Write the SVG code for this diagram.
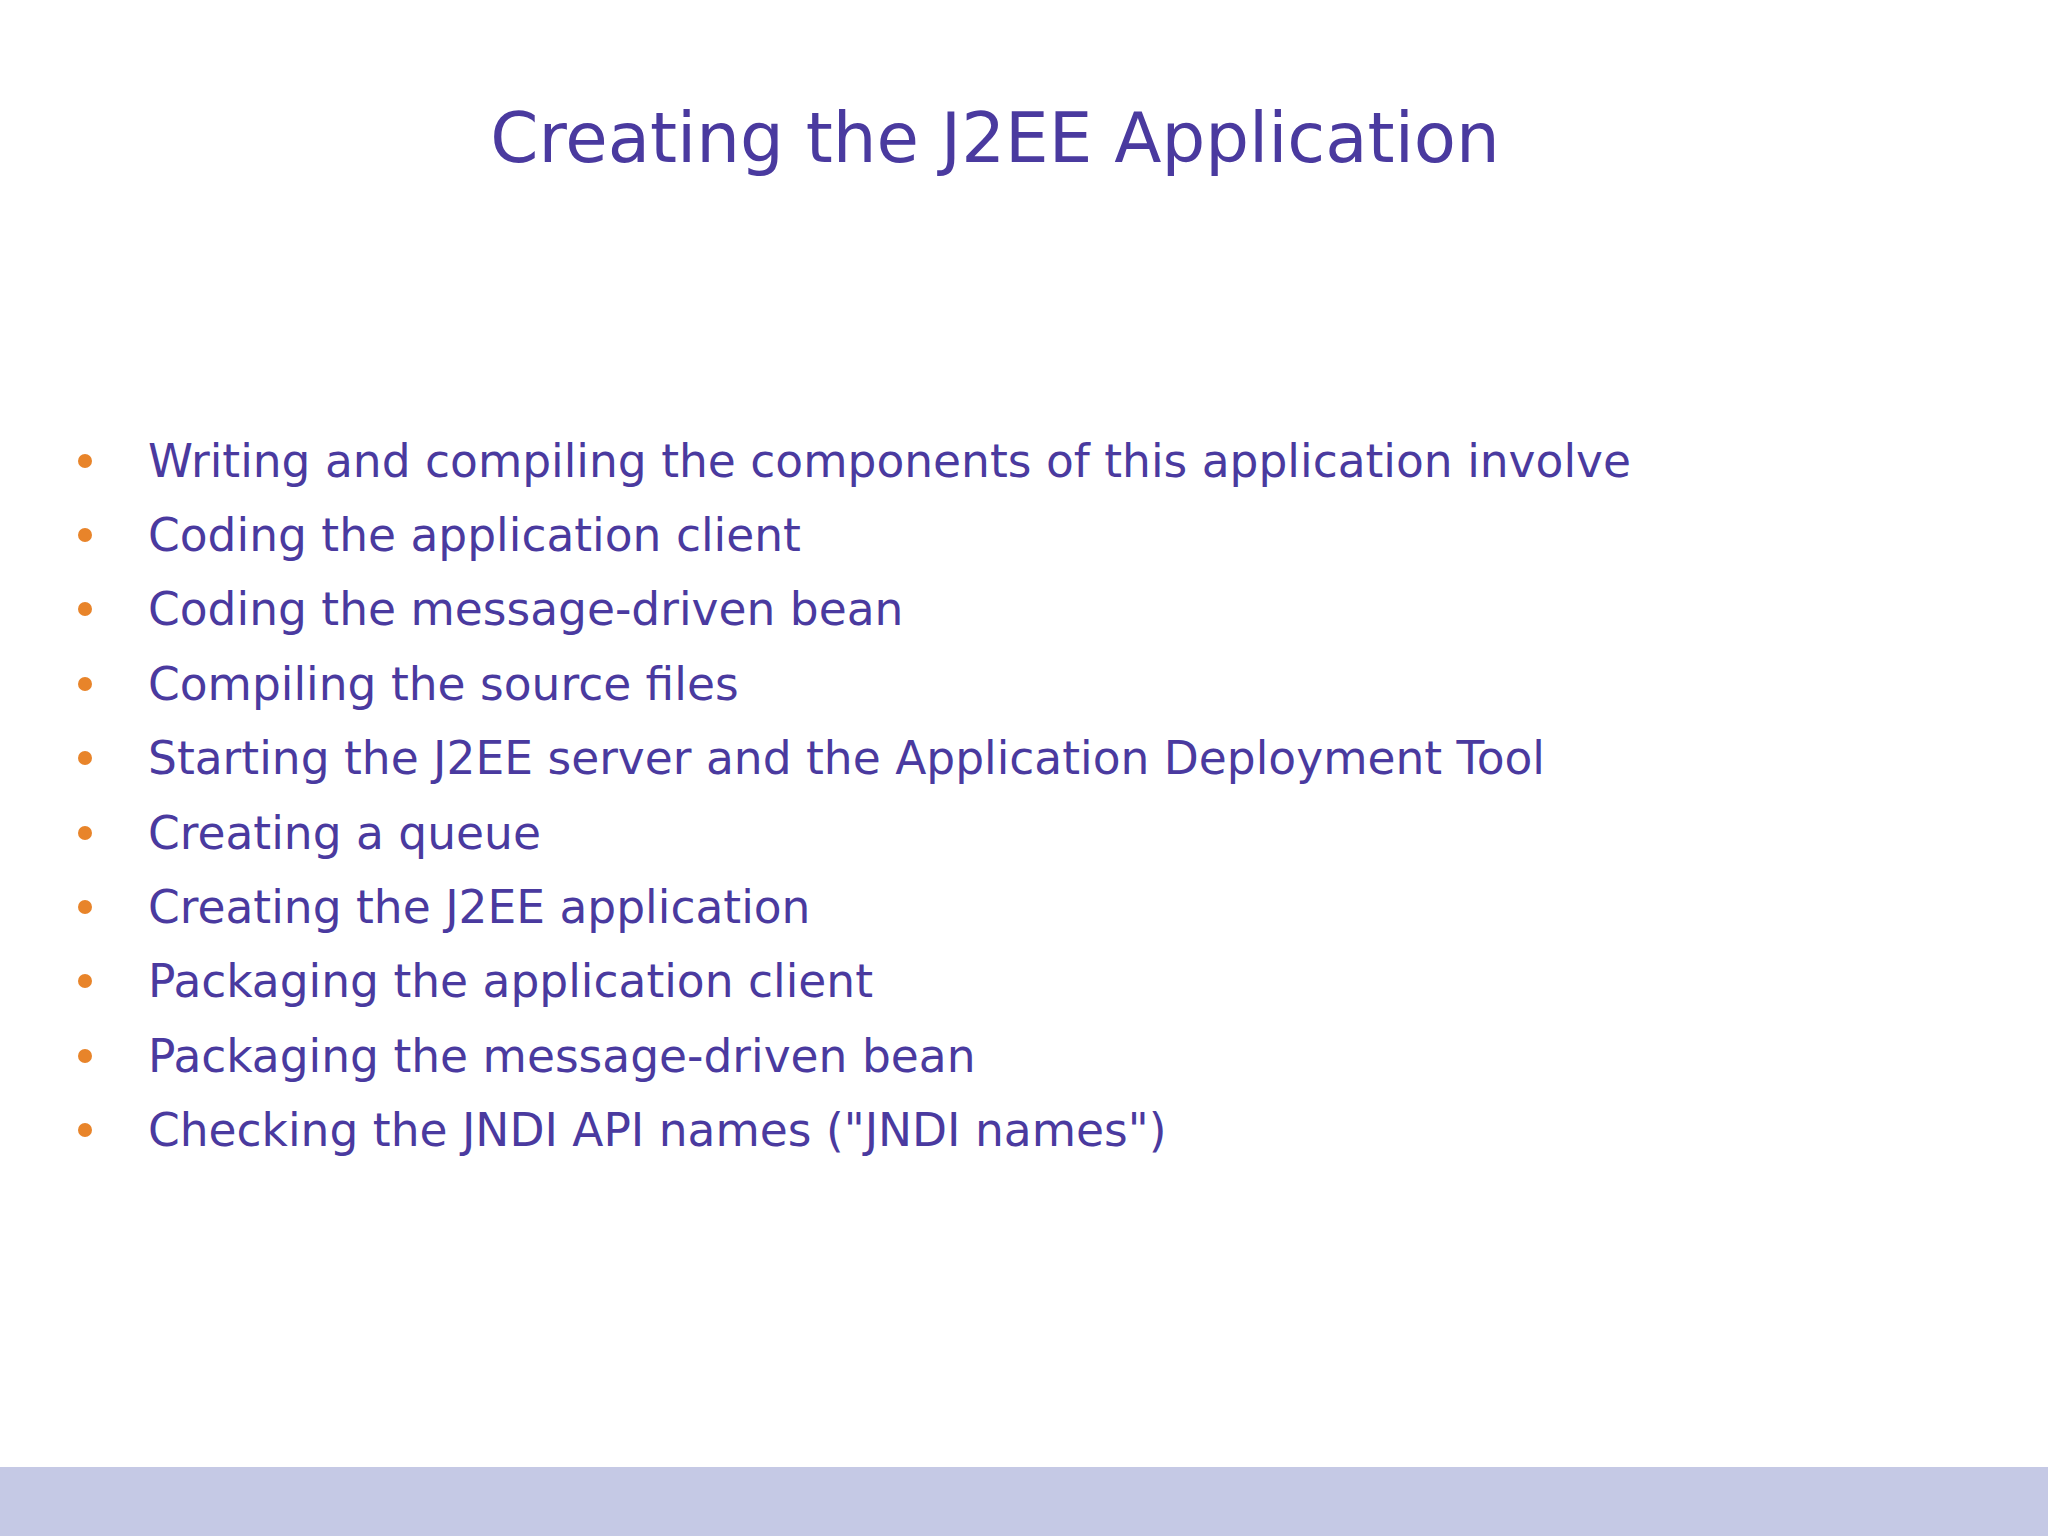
<svg xmlns="http://www.w3.org/2000/svg" width="2048" height="1536" viewBox="0 0 2048 1536">
<style>
.t{font-family:"DejaVu Sans",sans-serif;font-size:45.5px;fill:#4a3a9f}
.b{fill:#e8842a}
</style>
<rect width="2048" height="1536" fill="#ffffff"/>
<rect y="1467" width="2048" height="69" fill="#c5c9e5"/>
<text x="995" y="162" text-anchor="middle" font-family="DejaVu Sans,sans-serif" font-size="69" fill="#4a3a9f">Creating the J2EE Application</text>
<g id="list">
<circle class="b" cx="85" cy="461" r="7"/><text class="t" x="148" y="477">Writing and compiling the components of this application involve</text>
<circle class="b" cx="85" cy="535" r="7"/><text class="t" x="148" y="551">Coding the application client</text>
<circle class="b" cx="85" cy="609" r="7"/><text class="t" x="148" y="625">Coding the message-driven bean</text>
<circle class="b" cx="85" cy="684" r="7"/><text class="t" x="148" y="700">Compiling the source files</text>
<circle class="b" cx="85" cy="758" r="7"/><text class="t" x="148" y="774">Starting the J2EE server and the Application Deployment Tool</text>
<circle class="b" cx="85" cy="833" r="7"/><text class="t" x="148" y="849">Creating a queue</text>
<circle class="b" cx="85" cy="907" r="7"/><text class="t" x="148" y="923">Creating the J2EE application</text>
<circle class="b" cx="85" cy="981" r="7"/><text class="t" x="148" y="997">Packaging the application client</text>
<circle class="b" cx="85" cy="1056" r="7"/><text class="t" x="148" y="1072">Packaging the message-driven bean</text>
<circle class="b" cx="85" cy="1130" r="7"/><text class="t" x="148" y="1146">Checking the JNDI API names ("JNDI names")</text>
</g>
</svg>
